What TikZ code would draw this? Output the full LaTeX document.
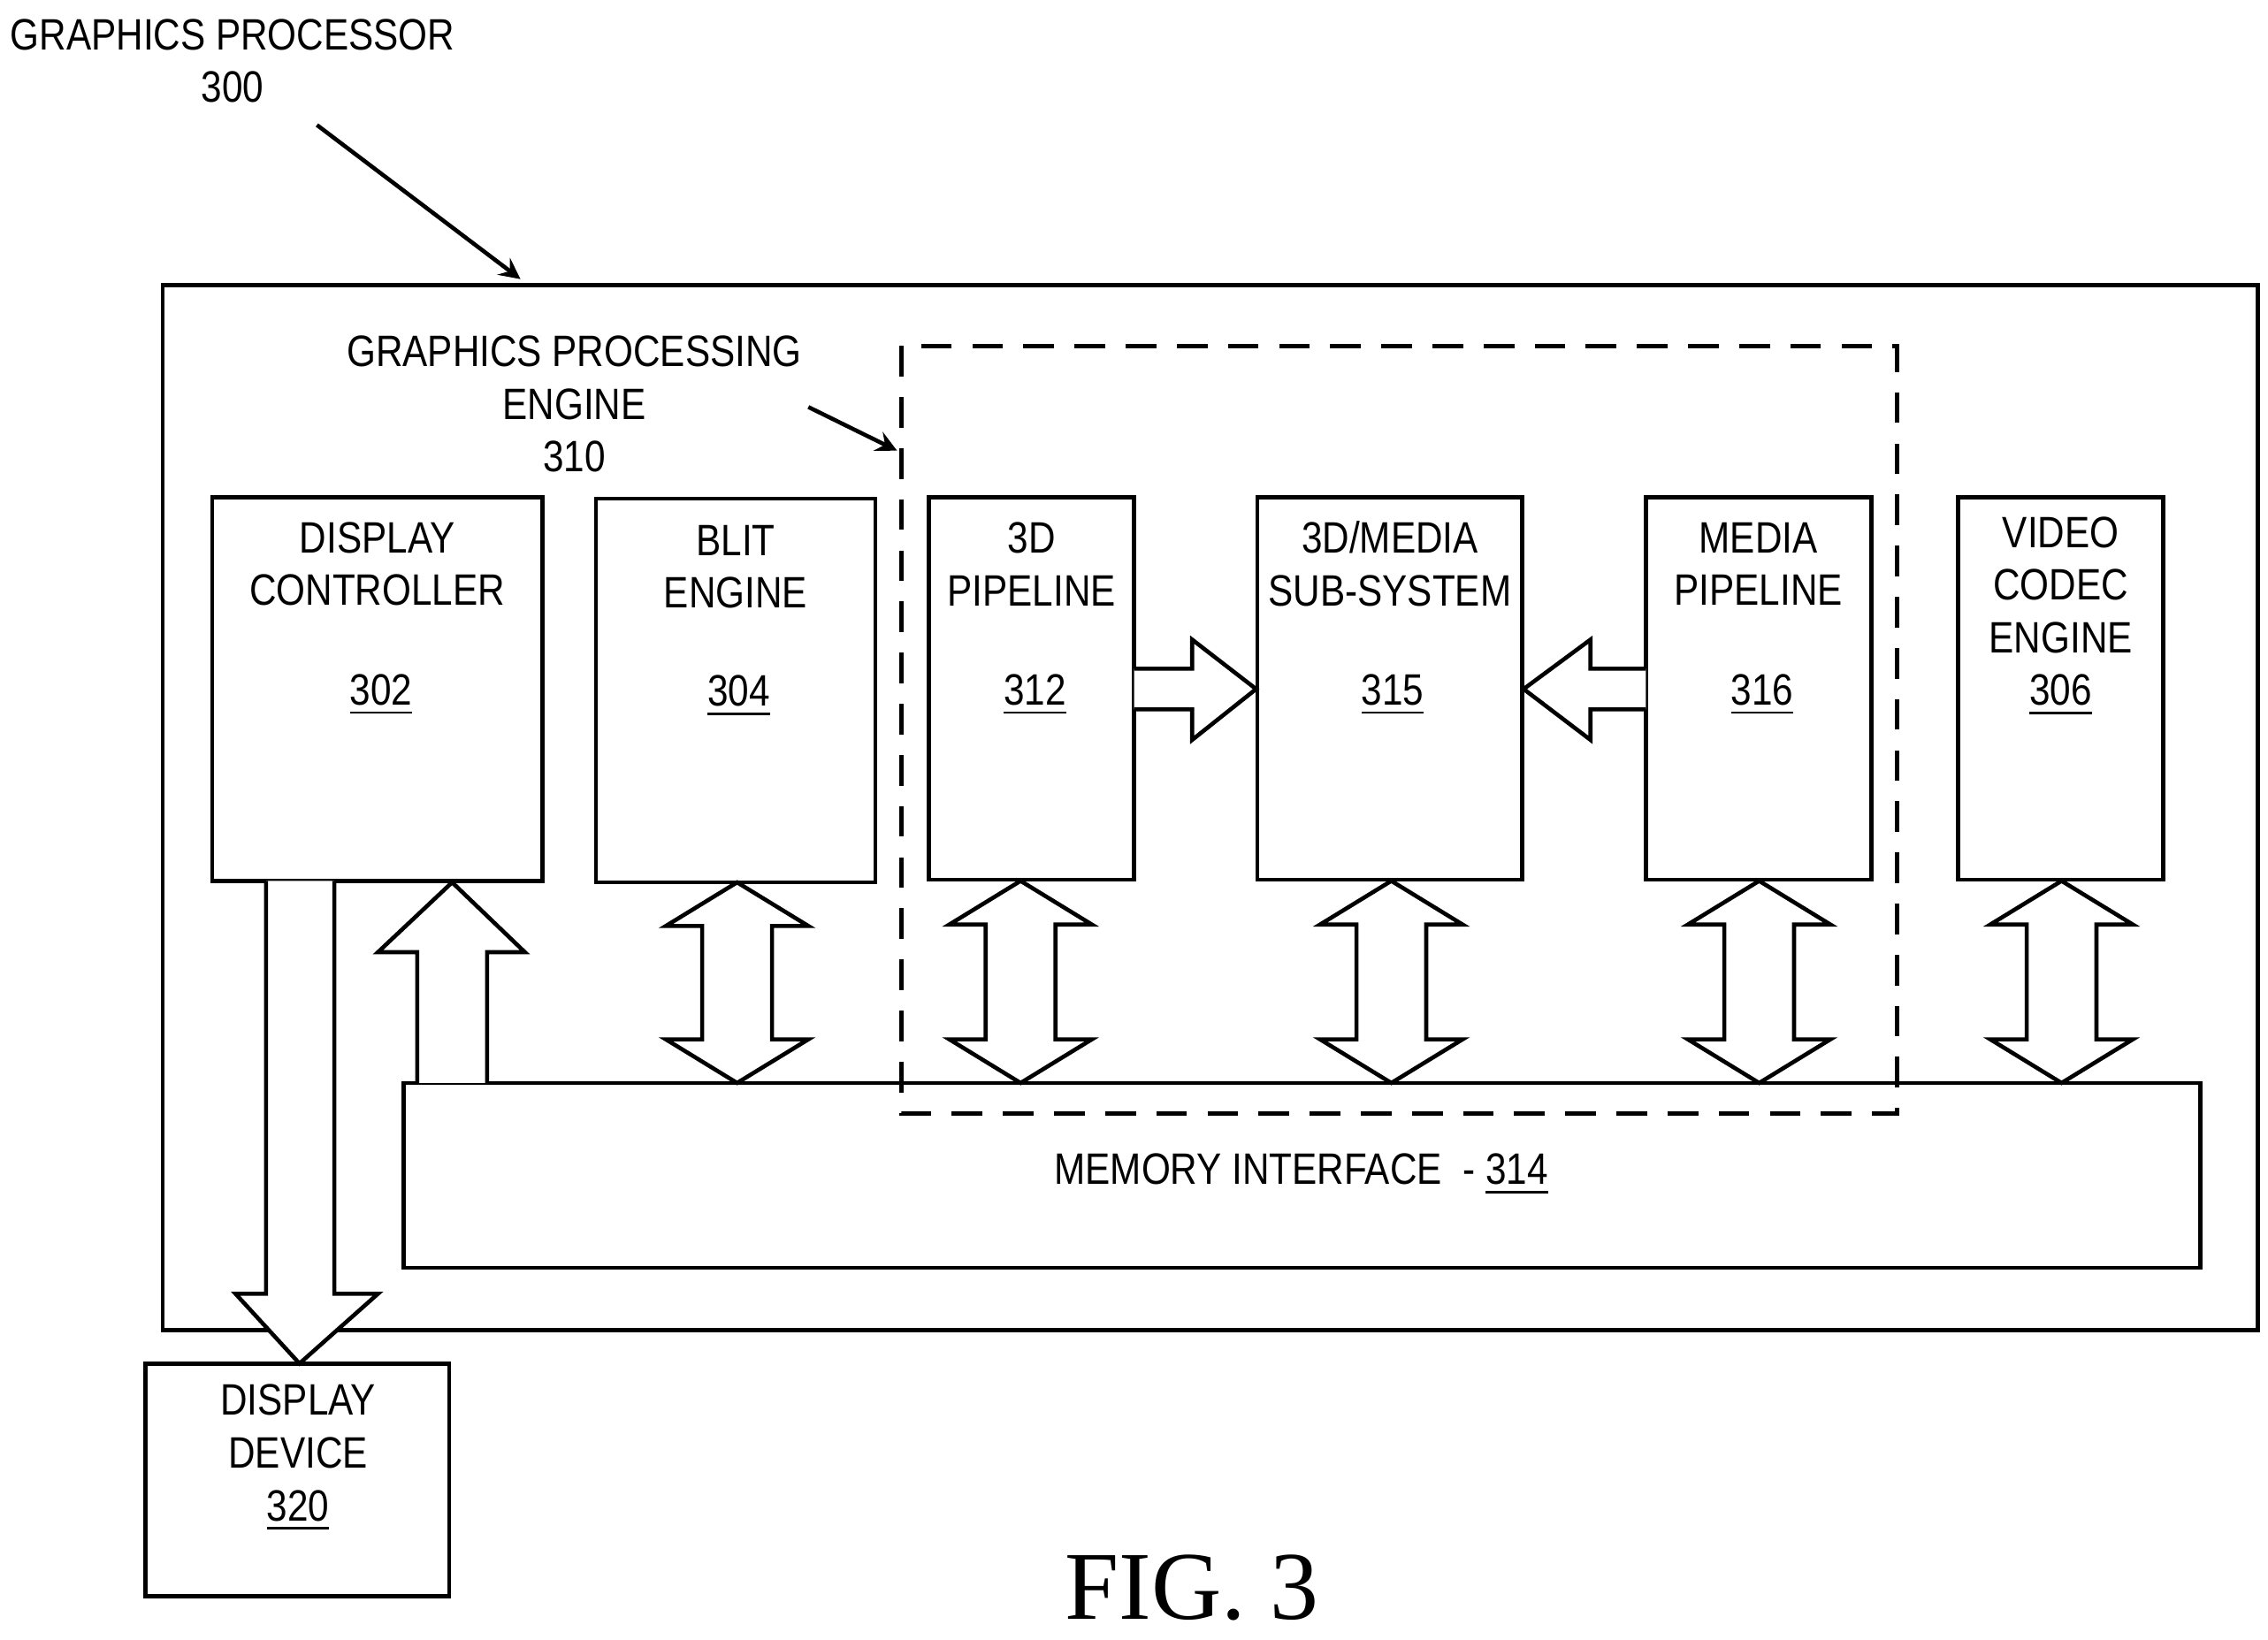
\documentclass[tikz,border=0pt]{standalone}
\usepackage{fontspec}
\setmainfont{Liberation Sans}[FakeStretch=0.85]
\newfontfamily\figfont{Liberation Serif}
\usetikzlibrary{positioning}
\tikzset{
  blk/.style={draw, line width=0.8pt, inner sep=0pt},
  txt/.style={align=center, font=\fontsize{8.6}{10.3}\selectfont, inner sep=0pt},
  bigarrow/.style={draw, line width=0.8pt, fill=white},
}
% vertical double arrow: centre x, top y, bottom y (pixel units)
\newcommand{\vdbl}[3]{%
  \draw[bigarrow] (#1,#2) -- (#1+49,#2+30) -- (#1+24,#2+30) -- (#1+24,#3-30)
    -- (#1+49,#3-30) -- (#1,#3) -- (#1-49,#3-30) -- (#1-24,#3-30)
    -- (#1-24,#2+30) -- (#1-49,#2+30) -- cycle;}
\begin{document}
\begin{tikzpicture}[x=0.01cm, y=-0.01cm]
\useasboundingbox (0,0) rectangle (1560,1128);
% frames
\draw[line width=0.8pt] (112,196) rectangle (1553,915);
\draw[line width=0.8pt, dash pattern=on 6pt off 4pt] (620,238) rectangle (1305,766);
% blocks
\node[blk, minimum width=2.27cm, minimum height=2.64cm] (dc) at (259.5,474) {};
\node[blk, minimum width=1.92cm, minimum height=2.64cm] (blit) at (506,475) {};
\node[blk, minimum width=1.41cm, minimum height=2.63cm] (pipe3d) at (709.5,473.5) {};
\node[blk, minimum width=1.82cm, minimum height=2.63cm] (sub) at (956,473.5) {};
\node[blk, minimum width=1.55cm, minimum height=2.63cm] (media) at (1209.5,473.5) {};
\node[blk, minimum width=1.41cm, minimum height=2.63cm] (codec) at (1417.5,473.5) {};
\node[blk, minimum width=12.35cm, minimum height=1.27cm] (mem) at (895.5,808.5) {};
\node[blk, minimum width=2.09cm, minimum height=1.60cm] (dev) at (204.5,1018) {};
% texts
\node[txt] (dct) at (259.5,388) {DISPLAY\\CONTROLLER};
\node[txt] (dcn) at (262,478) {\underline{302}};
\node[txt] (blitt) at (506,390) {BLIT\\ENGINE};
\node[txt] (blitn) at (508,479) {\underline{304}};
\node[txt] (pipe3dt) at (709.5,388) {3D\\PIPELINE};
\node[txt] (pipe3dn) at (712,478) {\underline{312}};
\node[txt] (subt) at (956,388) {3D/MEDIA\\SUB-SYSTEM};
\node[txt] (subn) at (958,478) {\underline{315}};
\node[txt] (mediat) at (1209.5,388) {MEDIA\\PIPELINE};
\node[txt] (median) at (1212,478) {\underline{316}};
\node[txt] (codect) at (1417.5,424) {VIDEO\\CODEC\\ENGINE\\\underline{306}};
\node[txt] (memt) at (895,808) {MEMORY INTERFACE \ - \underline{314}};
\node[txt] (devt) at (205,1003) {DISPLAY\\DEVICE\\\underline{320}};
\node[txt] (gp) at (160,42) {GRAPHICS PROCESSOR\\300};
\node[txt] (gpe) at (395,278) {GRAPHICS PROCESSING\\ENGINE\\310};
\node[font=\figfont\fontsize{19}{22}\selectfont, inner sep=0pt] (fig) at (820,1092) {FIG. 3};
% pointers
\coordinate (gpa) at (218,86);
\coordinate (gpb) at (358,192);
\coordinate (gpea) at (556,280);
\coordinate (gpeb) at (617,310);
\draw[line width=0.8pt, -stealth] (gpa) -- (gpb);
\draw[line width=0.8pt, -stealth] (gpea) -- (gpeb);
% block arrows to memory
\vdbl{507}{607}{745}
\vdbl{702}{606}{745}
\vdbl{957}{606}{745}
\vdbl{1210}{606}{745}
\vdbl{1418}{606}{745}
% memory -> display controller
\draw[bigarrow] (287,745) -- (287,655) -- (260,655) -- (311,607) -- (361,655)
  -- (335,655) -- (335,745);
% display controller -> display device
\draw[bigarrow] (183,606) -- (183,890) -- (162,890) -- (206,938) -- (260,890)
  -- (230,890) -- (230,606);
% pipelines -> sub-system
\draw[bigarrow] (780,460) -- (820,460) -- (820,440) -- (864,474) -- (820,509)
  -- (820,488) -- (780,488);
\draw[bigarrow] (1132,460) -- (1094,460) -- (1094,440) -- (1048,474) -- (1094,509)
  -- (1094,488) -- (1132,488);
\end{tikzpicture}
\end{document}
